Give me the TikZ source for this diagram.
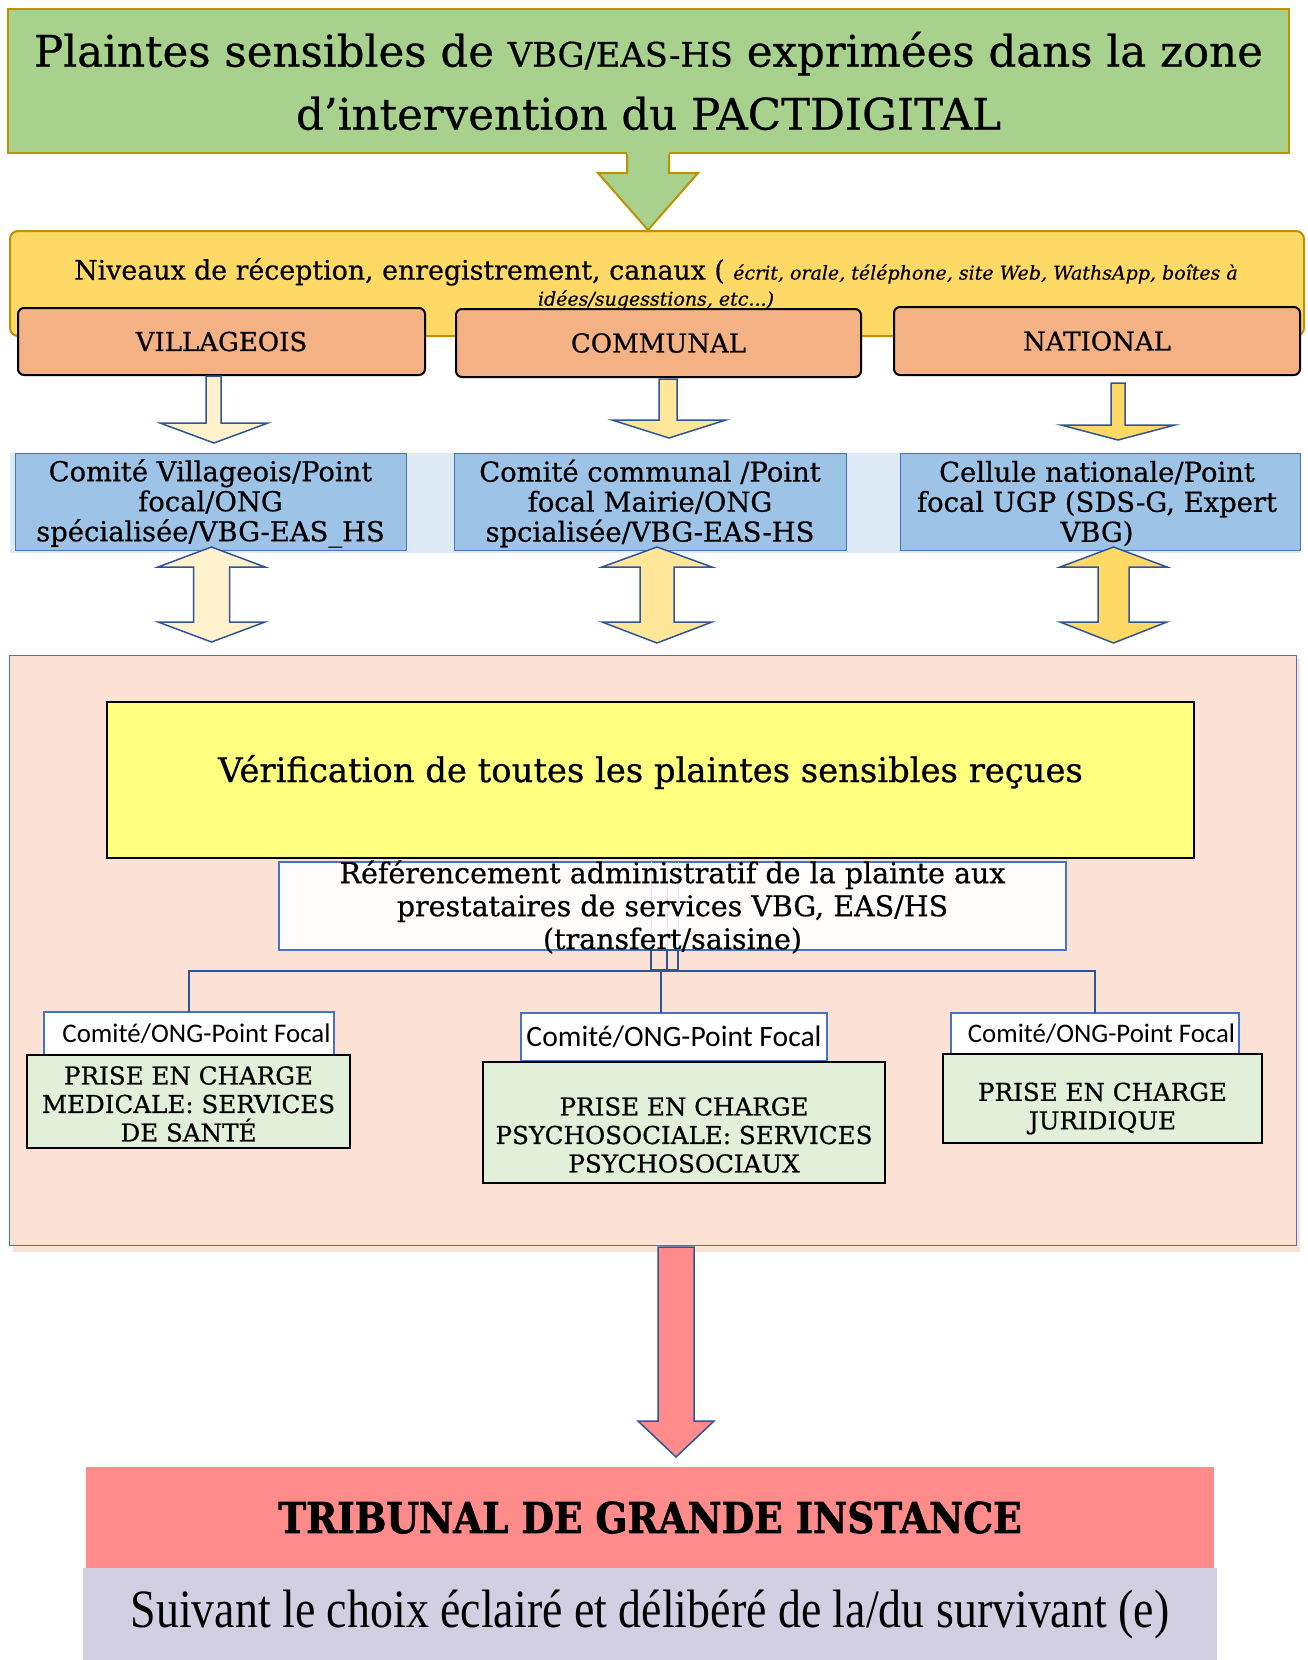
\documentclass[tikz,border=0pt]{standalone}
\usepackage{fontspec}
\setmainfont{DejaVu Serif}[FakeBold=0.6]
\newfontfamily\calfont{Carlito}
\newfontfamily\garfont{Liberation Serif}[FakeStretch=0.85]
\newfontfamily\heavyfont{DejaVu Serif}[FakeStretch=0.88, FakeBold=1.5]
\definecolor{titlegreen}{HTML}{A9D18E}
\definecolor{goldline}{HTML}{BF9000}
\definecolor{nivyellow}{HTML}{FFD966}
\definecolor{orangebox}{HTML}{F4B183}
\definecolor{creamfill}{HTML}{FFF2CC}
\definecolor{lightyel}{HTML}{FFE699}
\definecolor{midyel}{HTML}{FFD966}
\definecolor{arrowblue}{HTML}{2F5597}
\definecolor{bluebox}{HTML}{9DC3E6}
\definecolor{blueband}{HTML}{DEEBF7}
\definecolor{boxblue}{HTML}{4472C4}
\definecolor{panelfill}{HTML}{FBE2D5}
\definecolor{veriffill}{HTML}{FFFF80}
\definecolor{greenbox}{HTML}{E2F0D9}
\definecolor{redfill}{HTML}{FF8B8A}
\definecolor{lavfill}{HTML}{D3CFE2}
\definecolor{refwhite}{HTML}{FEFCFA}
\definecolor{faintblue}{HTML}{DAE3F3}
\tikzset{
  base/.style={inner sep=0pt, outer sep=0pt, align=center},
  titlebox/.style={base, fill=titlegreen, draw=goldline, line width=2pt},
  nivbox/.style={base, fill=nivyellow, draw=goldline, line width=2pt, rounded corners=8pt},
  levelbox/.style={base, fill=orangebox, draw=black, line width=2pt, rounded corners=6pt,
     minimum height=67pt, minimum width=406pt, font=\fontsize{26}{30}\selectfont},
  commbox/.style={base, fill=bluebox, draw=boxblue, line width=0.8pt,
     minimum height=97pt},
  commtext/.style={base, font=\fontsize{27.4}{30}\selectfont},
  blockarrow/.style={draw=arrowblue, line width=1.5pt, line join=miter},
  panelbox/.style={base, fill=panelfill, draw=boxblue, line width=1pt},
  verifbox/.style={base, fill=veriffill, draw=black, line width=2.5pt},
  refbox/.style={base, fill=refwhite, draw=boxblue, line width=2pt},
  focalbox/.style={base, fill=white, draw=boxblue, line width=2pt},
  carebox/.style={base, fill=greenbox, draw=black, line width=2pt},
  caretext/.style={base, font=\fontsize{24.6}{28.5}\selectfont},
  conn/.style={draw=arrowblue, line width=2pt},
}
\begin{document}
\begin{tikzpicture}[x=1pt,y=-1pt]
\useasboundingbox (0,0) rectangle (1308,1660);
\fill[white] (0,0) rectangle (1308,1660);

% --- top title box
\node[titlebox, minimum width=1281pt, minimum height=144pt,
      font=\fontsize{43.5}{63}\selectfont] (title) at (648.5,81)
  {Plaintes sensibles de {\fontsize{33.7}{63}\selectfont VBG/EAS-HS} exprimées dans la zone\\d’intervention du PACTDIGITAL};

% --- reception box
\node[nivbox, minimum width=1294pt, minimum height=105pt] (niv) at (657,283.5) {};
\fill[titlegreen] (627,152) -- (669,152) -- (669,173) -- (698,173) -- (648,230) -- (598,173) -- (627,173) -- cycle;
\draw[goldline, line width=2pt, line join=miter] (627,154) -- (627,173) -- (598,173) -- (648,230) -- (698,173) -- (669,173) -- (669,154);
\node[base, font=\fontsize{26.8}{26}\selectfont] (nivtext) at (656,284)
  {Niveaux de réception, enregistrement, canaux ( {\itshape\fontsize{19}{26}\selectfont écrit, orale, téléphone, site Web, WathsApp, boîtes à}\\
   {\itshape\fontsize{19}{26}\selectfont idées/sugesstions, etc...)}};

% --- level boxes
\node[levelbox, minimum width=407pt] (vill) at (221.5,341.5) {VILLAGEOIS};
\node[levelbox, minimum width=405pt, minimum height=68pt] (comm) at (658.5,343) {COMMUNAL};
\node[levelbox, minimum width=406pt, minimum height=68pt] (nat) at (1097,341) {NATIONAL};

% --- down arrows
\draw[blockarrow, fill=creamfill] (206,376) -- (221,376) -- (221,423) -- (268,423) -- (214,443) -- (160,423) -- (206,423) -- cycle;
\draw[blockarrow, fill=lightyel] (659,379) -- (677,379) -- (677,420) -- (726,420) -- (669,438) -- (612,420) -- (659,420) -- cycle;
\draw[blockarrow, fill=midyel] (1111,383) -- (1125,383) -- (1125,425) -- (1175,425) -- (1118,440) -- (1061,425) -- (1111,425) -- cycle;

% --- committee boxes
\fill[blueband] (10,453) rectangle (1300,553);
\node[commbox, minimum width=391pt] (cv) at (210.5,501.5) {};
\node[commbox, minimum width=392pt] (cc) at (650,501.5) {};
\node[commbox, minimum width=400pt] (cn) at (1100,501.5) {};
\node[commtext] (cvt) at (210.5,503.5) {Comité Villageois/Point\\focal/ONG\\spécialisée/VBG-EAS\_HS};
\node[commtext] (cct) at (650,503.5) {Comité communal /Point\\focal Mairie/ONG\\spcialisée/VBG-EAS-HS};
\node[commtext] (cnt) at (1097,503.5) {Cellule nationale/Point\\focal UGP (SDS-G, Expert\\VBG)};

% --- double arrows
\draw[blockarrow, fill=creamfill] (211.5,547) -- (265,567) -- (229.5,567) -- (229.5,622) -- (265,622) -- (211.5,642) -- (158,622) -- (193.5,622) -- (193.5,567) -- (158,567) -- cycle;
\draw[blockarrow, fill=lightyel] (657,547) -- (712,567) -- (674,567) -- (674,622) -- (712,622) -- (657,643) -- (602,622) -- (640,622) -- (640,567) -- (602,567) -- cycle;
\draw[blockarrow, fill=midyel] (1113.5,547) -- (1167,567) -- (1129,567) -- (1129,622) -- (1167,622) -- (1113.5,643) -- (1060,622) -- (1098,622) -- (1098,567) -- (1060,567) -- cycle;

% --- big panel
\fill[panelfill] (13,659) rectangle (1300,1252);
\node[panelbox, minimum width=1287pt, minimum height=590pt] (panel) at (652.5,950) {};

\node[verifbox, minimum width=1087pt, minimum height=156pt] (verif) at (650.5,780) {};
\node[base, font=\fontsize{33.8}{36}\selectfont] (veriftext) at (650.5,772) {Vérification de toutes les plaintes sensibles reçues};

\node[refbox, minimum width=787pt, minimum height=88pt] (ref) at (672.5,906) {};
\draw[faintblue, line width=1pt] ([xshift=-21.5pt]ref.north) -- ([xshift=-21.5pt]ref.south)
   ([xshift=-5.5pt]ref.north) -- ([xshift=-5.5pt]ref.south)
   ([xshift=5.5pt]ref.north) -- ([xshift=5.5pt]ref.south);
\node[base, font=\fontsize{28.5}{33}\selectfont] (reftext) at (672.5,907)
  {Référencement administratif de la plainte aux\\prestataires de services VBG, EAS/HS\\(transfert/saisine)};

% --- focal boxes
\node[focalbox, minimum width=290pt, minimum height=43pt] (f1) at (189,1033.5) {};
\node[focalbox, minimum width=306pt, minimum height=48pt] (f2) at (674,1037) {};
\node[focalbox, minimum width=288pt, minimum height=42pt] (f3) at (1095,1034) {};
\node[base, font=\calfont\fontsize{26.9}{30}\selectfont] (f1t) at (196.5,1033.5) {Comité/ONG-Point Focal};
\node[base, font=\calfont\fontsize{29.6}{30}\selectfont] (f2t) at (674,1037) {Comité/ONG-Point Focal};
\node[base, font=\calfont\fontsize{26.8}{30}\selectfont] (f3t) at (1101.5,1034) {Comité/ONG-Point Focal};

% --- connectors
\coordinate (hub) at (661,971);
\draw[conn] ([xshift=-21.5pt]ref.south) rectangle ([xshift=-5.5pt,yshift=-20pt]ref.south);
\draw[conn] ([xshift=-5.5pt]ref.south) rectangle ([xshift=5.5pt,yshift=-20pt]ref.south);
\draw[conn] (f1.north) |- (hub) -| (f3.north);
\draw[conn] (hub) -- (hub |- f2.north);

% --- care boxes
\node[carebox, minimum width=323pt, minimum height=93pt] (g1) at (188.5,1101.5) {};
\node[caretext] (g1t) at (188.5,1104) {PRISE EN CHARGE\\MEDICALE: SERVICES\\DE SANTÉ};
\node[carebox, minimum width=402pt, minimum height=121pt] (g2) at (684,1122.5) {};
\node[caretext] (g2t) at (684,1135) {PRISE EN CHARGE\\PSYCHOSOCIALE: SERVICES\\PSYCHOSOCIAUX};
\node[carebox, minimum width=319pt, minimum height=89pt] (g3) at (1102.5,1098.5) {};
\node[caretext] (g3t) at (1102.5,1108.5) {PRISE EN CHARGE\\JURIDIQUE};

% --- red arrow and bottom boxes
\node[base, fill=redfill, minimum width=1128pt, minimum height=101pt,
      font=\heavyfont\bfseries\fontsize{42.5}{46}\selectfont] (tgi) at (650,1517.5) {TRIBUNAL DE GRANDE INSTANCE};
\node[base, fill=lavfill, minimum width=1134pt, minimum height=92pt,
      font=\garfont\fontsize{54}{60}\selectfont] (choix) at (650,1614) {Suivant le choix éclairé et délibéré de la/du survivant (e)};
\draw[blockarrow, fill=redfill] (658,1247) -- (694,1247) -- (694,1421) -- (714,1421) -- (676,1457) -- (638,1421) -- (658,1421) -- cycle;
\end{tikzpicture}
\end{document}
